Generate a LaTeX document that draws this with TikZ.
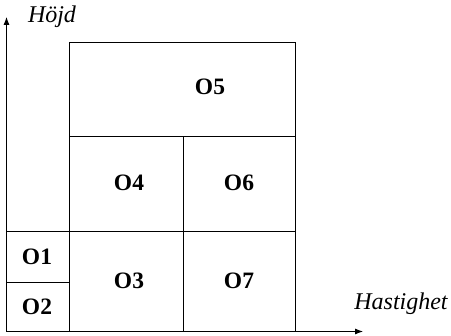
\documentclass[tikz,border=0pt]{standalone}
\usepackage{fontspec}
\setmainfont{Liberation Serif}
\usetikzlibrary{arrows.meta}
\begin{document}
\begin{tikzpicture}[x=1pt,y=-1pt,
  cell/.style={draw=black,line width=0.8pt},
  lbl/.style={font=\fontsize{23.5}{27}\selectfont\bfseries,inner sep=0pt},
  axlbl/.style={font=\fontsize{24}{28}\selectfont\itshape,inner sep=0pt,anchor=base},
  axis/.style={draw=black,line width=0.8pt,-{Latex[length=8pt,width=6pt]}}]
\useasboundingbox (0,0) rectangle (451,336);
% grid of regions
\draw[cell] (69,42) rectangle (295.5,136.5);
\draw[cell] (69,136.5) rectangle (183,231.5);
\draw[cell] (183,136.5) rectangle (295.5,231.5);
\draw[cell] (69,231.5) rectangle (183,331.5);
\draw[cell] (183,231.5) rectangle (295.5,331.5);
\draw[cell] (6.5,231.5) rectangle (69,282);
\draw[cell] (6.5,282) rectangle (69,331.5);
% region labels
\node[lbl] (o5) at (210,87) {O5};
\node[lbl] (o4) at (129,183) {O4};
\node[lbl] (o6) at (239,183) {O6};
\node[lbl] (o3) at (129,281) {O3};
\node[lbl] (o7) at (239,281) {O7};
\node[lbl] (o1) at (37,257) {O1};
\node[lbl] (o2) at (37,307) {O2};
% axes
\coordinate (origin) at (6.5,331.5);
\coordinate (ytip) at (6.5,17);
\coordinate (xtip) at (363,331.5);
\draw[axis] (origin) -- (ytip);
\draw[axis] (origin) -- (xtip);
\node[axlbl] (hojd) at (52,22.5) {Höjd};
\node[axlbl] (hast) at (401,310) {Hastighet};
\end{tikzpicture}
\end{document}
